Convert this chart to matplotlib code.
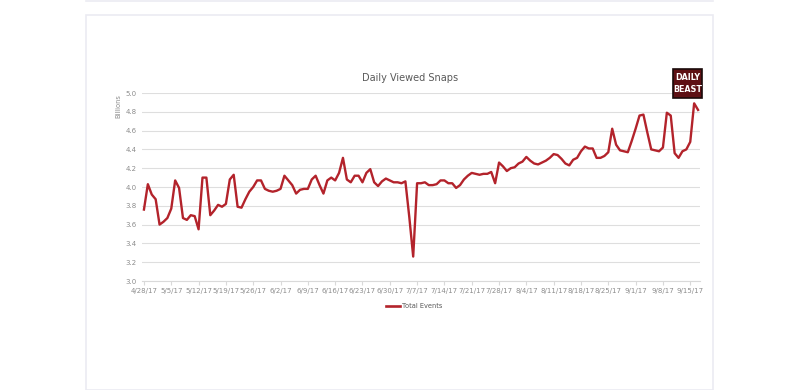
import matplotlib
matplotlib.use("Agg")
import matplotlib.pyplot as plt
import matplotlib.patches as patches
import numpy as np
import pandas as pd

# daily viewed snaps (billions), 4/28/17 .. 9/17/17
start_date = "2017-04-28"
values = [
    3.76, 4.03, 3.92, 3.87, 3.60, 3.63, 3.67, 3.77, 4.07, 3.99,
    3.67, 3.65, 3.70, 3.69, 3.55, 4.10, 4.10, 3.70, 3.75, 3.81,
    3.79, 3.82, 4.08, 4.13, 3.79, 3.78, 3.87, 3.95, 4.00, 4.07,
    4.07, 3.98, 3.96, 3.95, 3.96, 3.98, 4.12, 4.07, 4.02, 3.93,
    3.97, 3.98, 3.98, 4.08, 4.12, 4.02, 3.93, 4.07, 4.10, 4.07,
    4.15, 4.31, 4.08, 4.05, 4.12, 4.12, 4.05, 4.15, 4.19, 4.05,
    4.01, 4.06, 4.09, 4.07, 4.05, 4.05, 4.04, 4.06, 3.68, 3.26,
    4.04, 4.04, 4.05, 4.02, 4.02, 4.03, 4.07, 4.07, 4.04, 4.04,
    3.99, 4.02, 4.08, 4.12, 4.15, 4.14, 4.13, 4.14, 4.14, 4.16,
    4.04, 4.26, 4.22, 4.17, 4.20, 4.21, 4.25, 4.27, 4.32, 4.28,
    4.25, 4.24, 4.26, 4.28, 4.31, 4.35, 4.34, 4.30, 4.25, 4.23,
    4.29, 4.31, 4.38, 4.43, 4.41, 4.41, 4.31, 4.31, 4.33, 4.37,
    4.62, 4.45, 4.39, 4.38, 4.37, 4.49, 4.62, 4.76, 4.77, 4.58,
    4.40, 4.39, 4.38, 4.42, 4.79, 4.76, 4.36, 4.31, 4.38, 4.40,
    4.48, 4.89, 4.82,
]
dates = pd.date_range(start_date, periods=len(values), freq="D")
y_ticks = [3.0, 3.2, 3.4, 3.6, 3.8, 4.0, 4.2, 4.4, 4.6, 4.8, 5.0]

GRAY = "#8c8c8c"
RED = "#b3232b"

fig = plt.figure(figsize=(8, 3.9), dpi=100)
W, H = 800, 390

# outer card borders
fig.add_artist(patches.Rectangle((86 / W, 0), (713 - 86) / W, (H - 15) / H, transform=fig.transFigure,
                                 fill=False, ec="#ebebf2", lw=1.2))
fig.add_artist(plt.Line2D([86 / W, 713 / W], [1 - 1 / H, 1 - 1 / H], transform=fig.transFigure,
                          color="#ebebf2", lw=1.2))

ax = fig.add_axes([142 / W, 1 - 281 / H, (700 - 142) / W, (281 - 93) / H])
x = np.arange(len(values))
ax.plot(x, values, color=RED, lw=1.7, label="Total Events", solid_joinstyle="round")

ax.set_xlim(-0.5, len(values) - 0.5)
ax.set_ylim(3.0, 5.0)
ax.set_yticks(y_ticks)
ax.set_yticklabels([f"{v:.1f}" for v in y_ticks])
xt = np.arange(0, len(values), 7)
ax.set_xticks(xt)
ax.set_xticklabels([f"{dates[i].month}/{dates[i].day}/{dates[i].strftime('%y')}" for i in xt])
ax.grid(axis="y", color="#dedede", lw=0.8)
ax.set_axisbelow(True)
for s in ["top", "right", "left"]:
    ax.spines[s].set_visible(False)
ax.spines["bottom"].set_color("#d9d9d9")
ax.tick_params(axis="y", length=0, labelsize=5.0, labelcolor=GRAY, pad=4)
ax.tick_params(axis="x", length=3, color="#d9d9d9", labelsize=5.0, labelcolor=GRAY, pad=2)

fig.text(118 / W, 1 - 94 / H, "Billions", rotation=90, fontsize=4.8, color=GRAY, ha="center", va="top")
fig.text(410 / W, 1 - 78 / H, "Daily Viewed Snaps", fontsize=7, color="#595959", ha="center", va="center")

# legend
fig.add_artist(plt.Line2D([386 / W, 400 / W], [1 - 306 / H] * 2, transform=fig.transFigure, color=RED, lw=1.9))
fig.text(402 / W, 1 - 306 / H, "Total Events", fontsize=4.8, color="#595959", ha="left", va="center")

# Daily Beast logo
fig.add_artist(patches.Rectangle((673 / W, 1 - 98 / H), 29 / W, 29 / H, transform=fig.transFigure,
                                 fc="#5e1014", ec="#1a0a0a", lw=1.2))
fig.text(687.5 / W, 1 - 77 / H, "DAILY", fontsize=6.4, color="white", ha="center", va="center",
         fontweight="bold", fontstretch="condensed", family="Liberation Sans Narrow")
fig.text(687.5 / W, 1 - 90 / H, "BEAST", fontsize=6.4, color="white", ha="center", va="center",
         fontweight="bold", fontstretch="condensed", family="Liberation Sans Narrow")

fig.savefig("out.png", dpi=100, facecolor="white")
